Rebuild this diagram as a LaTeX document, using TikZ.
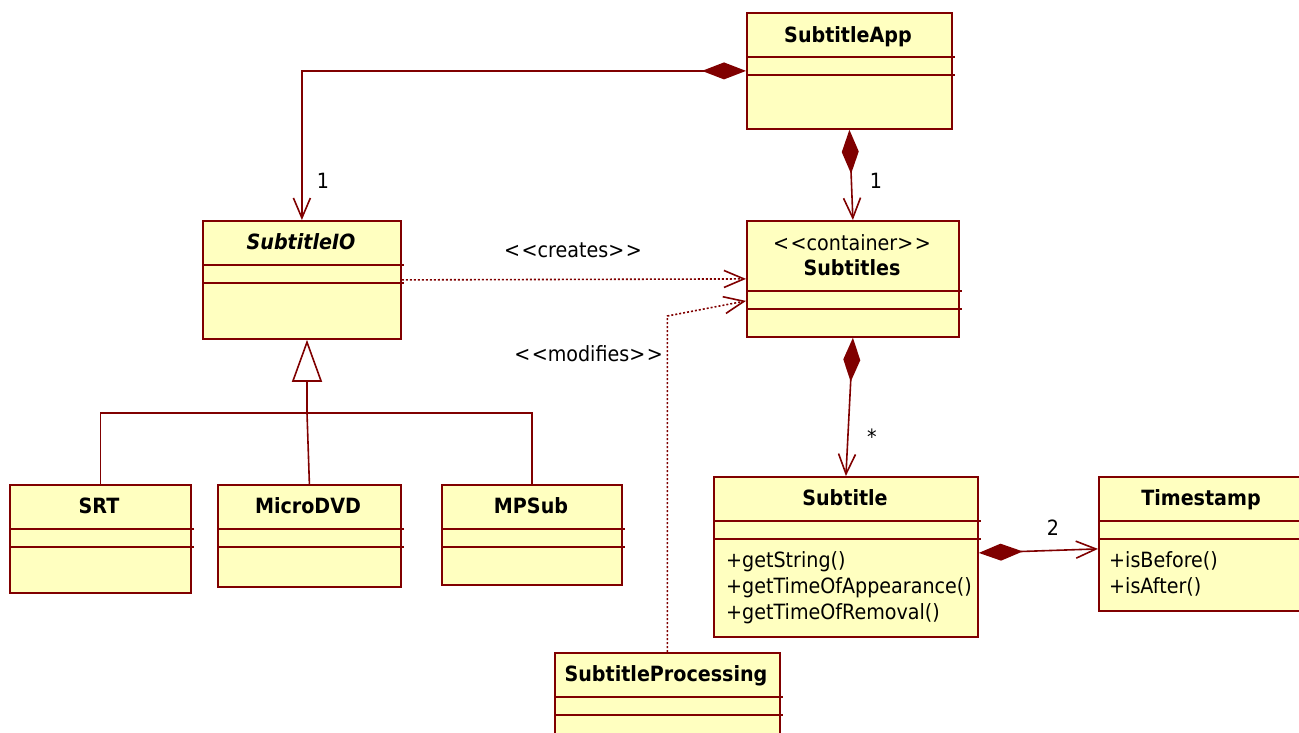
\documentclass[tikz,border=0pt]{standalone}
\usepackage{fontspec}
\setmainfont{DejaVu Sans}[FakeStretch=0.91]
\usetikzlibrary{arrows.meta}
\definecolor{UMLBordeaux}{RGB}{128, 0, 0}
\definecolor{UMLCreme}{RGB}{255, 255, 192}
\newcommand{\umlstereo}[1]{<\kern1.5pt<#1>\kern1.5pt>}
\tikzset{
	classe/.style={draw=UMLBordeaux, fill=UMLCreme, line width=1.8pt, anchor=north west, inner sep=0pt},
	separ/.style={draw=UMLBordeaux, line width=1.8pt},
	titre/.style={font=\fontsize{21}{26}\selectfont\bfseries, inner sep=0pt, text height=15pt, text depth=0pt},
	texte/.style={font=\fontsize{21}{26}\selectfont, inner sep=0pt, text height=15pt, text depth=0pt},
	lien/.style={draw=UMLBordeaux, line width=1.6pt},
	compo/.style={lien, {Diamond[length=44pt,width=17pt]}-{Straight Barb[length=20pt,width=17pt]}},
	depend/.style={lien, dash pattern=on 2pt off 2pt, -{Straight Barb[length=20pt,width=17pt]}},
}

\begin{document}
\begin{tikzpicture}[x=1pt,y=-1pt]
	\useasboundingbox (0,0) rectangle (1299,732);
	% classes
	\node[classe, minimum width=205pt, minimum height=116pt] (app) at (746,12) {};
	\draw[separ] ([yshift=-45pt]app.north west) -- ([yshift=-45pt,xshift=2pt]app.north east);
	\draw[separ] ([yshift=-63pt]app.north west) -- ([yshift=-63pt,xshift=2pt]app.north east);
	\node[titre] (appnom) at (848,35) {SubtitleApp};

	\node[classe, minimum width=198pt, minimum height=118pt] (io) at (202,220) {};
	\draw[separ] ([yshift=-45pt]io.north west) -- ([yshift=-45pt,xshift=2pt]io.north east);
	\draw[separ] ([yshift=-63pt]io.north west) -- ([yshift=-63pt,xshift=2pt]io.north east);
	\node[titre, font=\fontsize{21}{26}\selectfont\bfseries\itshape] (ionom) at (301,242) {SubtitleIO};

	\node[classe, minimum width=212pt, minimum height=116pt] (subs) at (746,220) {};
	\draw[separ] ([yshift=-71pt]subs.north west) -- ([yshift=-71pt,xshift=2pt]subs.north east);
	\draw[separ] ([yshift=-89pt]subs.north west) -- ([yshift=-89pt,xshift=2pt]subs.north east);
	\node[texte] (subsster) at (852,243) {\umlstereo{container}};
	\node[titre] (subsnom) at (852,268) {Subtitles};

	\node[classe, minimum width=181pt, minimum height=108pt] (srt) at (9,484) {};
	\draw[separ] ([yshift=-45pt]srt.north west) -- ([yshift=-45pt,xshift=2pt]srt.north east);
	\draw[separ] ([yshift=-63pt]srt.north west) -- ([yshift=-63pt,xshift=2pt]srt.north east);
	\node[titre] (srtnom) at (99,506) {SRT};

	\node[classe, minimum width=183pt, minimum height=102pt] (micro) at (217,484) {};
	\draw[separ] ([yshift=-45pt]micro.north west) -- ([yshift=-45pt,xshift=2pt]micro.north east);
	\draw[separ] ([yshift=-63pt]micro.north west) -- ([yshift=-63pt,xshift=2pt]micro.north east);
	\node[titre] (micronom) at (308,506) {MicroDVD};

	\node[classe, minimum width=180pt, minimum height=100pt] (mpsub) at (441,484) {};
	\draw[separ] ([yshift=-45pt]mpsub.north west) -- ([yshift=-45pt,xshift=2pt]mpsub.north east);
	\draw[separ] ([yshift=-63pt]mpsub.north west) -- ([yshift=-63pt,xshift=2pt]mpsub.north east);
	\node[titre] (mpsubnom) at (531,506) {MPSub};

	\node[classe, minimum width=264pt, minimum height=160pt] (sub) at (713,476) {};
	\draw[separ] ([yshift=-45pt]sub.north west) -- ([yshift=-45pt,xshift=2pt]sub.north east);
	\draw[separ] ([yshift=-63pt]sub.north west) -- ([yshift=-63pt,xshift=2pt]sub.north east);
	\node[titre] (subnom) at (845,498) {Subtitle};
	\foreach \m [count=\i] in {+getString(), +getTimeOfAppearance(), +getTimeOfRemoval()}
		\node[texte, anchor=west] (op\i) at (726,534+26*\i) {\m};

	\node[classe, minimum width=206pt, minimum height=134pt] (ts) at (1098,476) {};
	\draw[separ] ([yshift=-45pt]ts.north west) -- ([yshift=-45pt]ts.north east);
	\draw[separ] ([yshift=-63pt]ts.north west) -- ([yshift=-63pt]ts.north east);
	\node[titre] (tsnom) at (1201,498) {Timestamp};
	\foreach \m [count=\i] in {+isBefore(), +isAfter()}
		\node[texte, anchor=west] (tsop\i) at (1109,534+26*\i) {\m};

	\node[classe, minimum width=225pt, minimum height=120pt] (proc) at (554,652) {};
	\draw[separ] ([yshift=-45pt]proc.north west) -- ([yshift=-45pt,xshift=2pt]proc.north east);
	\draw[separ] ([yshift=-63pt]proc.north west) -- ([yshift=-63pt,xshift=2pt]proc.north east);
	\node[titre] (procnom) at (666,674) {SubtitleProcessing};

	% liens
	\draw[compo] (app.west) -| (io.north);
	\node[texte] (mult1) at (323,181) {1};
	\draw[compo] (app.south) -- (subs.north);
	\node[texte] (mult2) at (876,181) {1};
	\draw[depend] (io.east) -- (subs.west);
	\node[texte] (cree) at (573,250) {\umlstereo{creates}};
	\coordinate (coude) at (proc.north |- 0,316);
	\draw[depend] (proc.north) -- (coude) -- ([yshift=-22pt]subs.west);
	\node[texte, anchor=east] (modif) at (663,354) {\umlstereo{modifies}};
	\draw[compo] (subs.south) -- (sub.north);
	\node[texte] (mult3) at (872,437) {*};
	\draw[compo] ([yshift=4pt]sub.east) -- ([yshift=-5pt]ts.west);
	\node[texte] (mult4) at (1053,528) {2};

	% heritage
	\coordinate (jonction) at (307,413);
	\draw[lien, -{Triangle[open, fill=white, length=42pt, width=30pt]}] (jonction) -- (jonction |- io.south);
	\draw[lien] (srt.north) |- (jonction) -| (mpsub.north);
	\draw[lien] (micro.north) -- (jonction);
\end{tikzpicture}
\end{document}
